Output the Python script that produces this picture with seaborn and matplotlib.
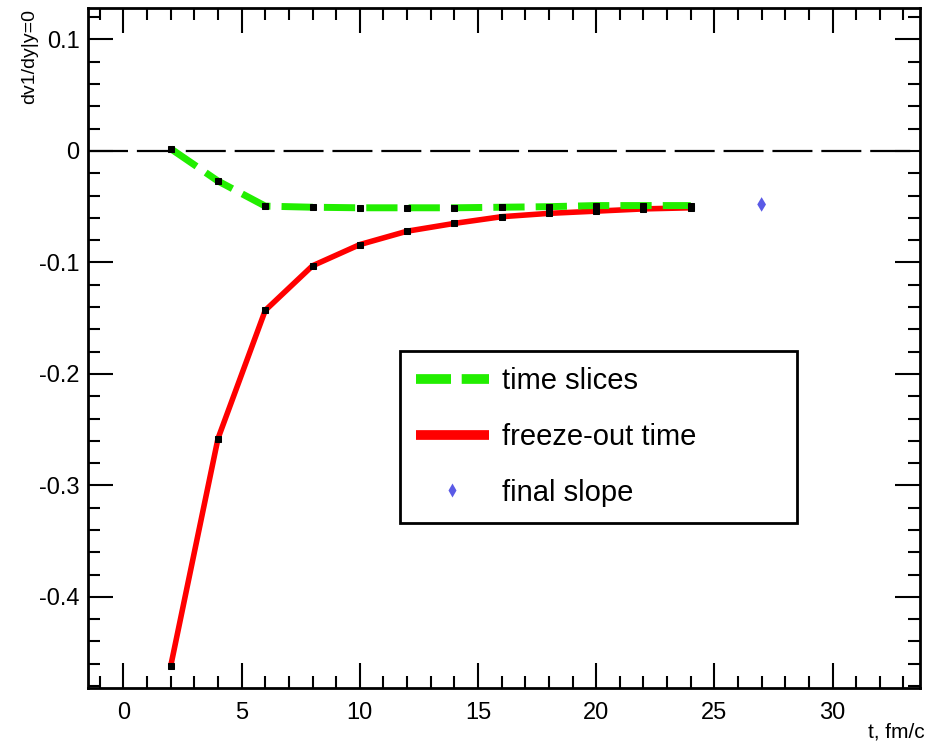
import matplotlib
matplotlib.use("Agg")
import matplotlib.pyplot as plt
import seaborn as sns
import pandas as pd
from matplotlib.lines import Line2D
from matplotlib.ticker import MultipleLocator

sns.set_theme(style="white")
plt.rcParams['font.family'] = ['Liberation Sans', 'DejaVu Sans']
plt.rcParams['text.color'] = 'black'
plt.rcParams['xtick.color'] = 'black'
plt.rcParams['ytick.color'] = 'black'
plt.rcParams['axes.labelcolor'] = 'black'

t = [2, 4, 6, 8, 10, 12, 14, 16, 18, 20, 22, 24]
time_slices = [0.002, -0.027, -0.0495, -0.0505, -0.051, -0.051, -0.051, -0.0505, -0.050, -0.049, -0.049, -0.049]
freeze_out = [-0.462, -0.258, -0.143, -0.103, -0.084, -0.072, -0.065, -0.059, -0.056, -0.054, -0.052, -0.051]
final_t = [27]
final_slope = [-0.048]

df = pd.DataFrame({"t": t, "slices": time_slices, "freeze": freeze_out})
dfin = pd.DataFrame({"t": final_t, "v": final_slope})

fig = plt.figure(figsize=(9.34, 7.47), dpi=100)
ax = fig.add_axes([0.0942, 0.079, 0.8908, 0.910])

ax.axhline(0, color='black', lw=1.6, dashes=(18, 4), zorder=1)

sns.lineplot(data=df, x="t", y="freeze", ax=ax, color='#ff0000', lw=4.0,
             marker='s', markersize=4, markerfacecolor='black', markeredgecolor='black',
             zorder=2)
sns.lineplot(data=df, x="t", y="slices", ax=ax, color='#22ee00', lw=5.0,
             dashes=False, marker='s', markersize=4, markerfacecolor='black',
             markeredgecolor='black', zorder=3)
ax.lines[-1].set_dashes((4.5, 1.6))
sns.scatterplot(data=dfin, x="t", y="v", ax=ax, marker='d', s=55, color='#5a5ae6',
                edgecolor='none', alpha=1.0, zorder=4)

ax.set_xlim(-1.5, 33.7)
ax.set_xlabel("")
ax.set_ylabel("")

ax.xaxis.set_major_locator(MultipleLocator(5))
ax.xaxis.set_minor_locator(MultipleLocator(1))
ax.yaxis.set_minor_locator(MultipleLocator(0.02))
ax.tick_params(which='both', direction='in', top=True, right=True, bottom=True, left=True,
               width=1.5, color='black', labelcolor='black', labelsize=17)
ax.tick_params(which='major', length=18)
ax.tick_params(which='minor', length=8.5)
ax.tick_params(axis='x', which='major', pad=10)
ax.tick_params(axis='y', which='major', pad=6)
ax.set_yticks([-0.4, -0.3, -0.2, -0.1, 0, 0.1])
ax.set_yticklabels(["-0.4", "-0.3", "-0.2", "-0.1", "0", "0.1"])
ax.set_ylim(-0.4817, 0.128)
for s in ax.spines.values():
    s.set_color('black')
    s.set_linewidth(2.0)

fig.text(0.99, 0.008, "t, fm/c", ha='right', va='bottom', fontsize=15)
fig.text(0.032, 0.988, "dv1/dy|y=0", rotation=90, ha='center', va='top', fontsize=14)

handles = [
    Line2D([], [], color='#22ee00', lw=7, dashes=(3.6, 1.1), dash_capstyle='butt'),
    Line2D([], [], color='#ff0000', lw=7, solid_capstyle='butt'),
    Line2D([], [], color='#5a5ae6', marker='d', ls='none', markersize=7, markeredgecolor='none'),
]
leg = ax.legend(handles, ["time slices", "freeze-out time", "final slope"],
                loc='upper left', bbox_to_anchor=(0.375, 0.244, 0.477, 0.2516),
                mode='expand', fontsize=21, frameon=True, fancybox=False,
                handlelength=2.5, borderpad=0.55, labelspacing=0.95, handletextpad=0.45,
                borderaxespad=0.0)
leg.get_frame().set_edgecolor('black')
leg.get_frame().set_linewidth(2.0)
leg.get_frame().set_alpha(1.0)
for txt in leg.get_texts():
    txt.set_color('black')

fig.savefig("out.png", dpi=100)
